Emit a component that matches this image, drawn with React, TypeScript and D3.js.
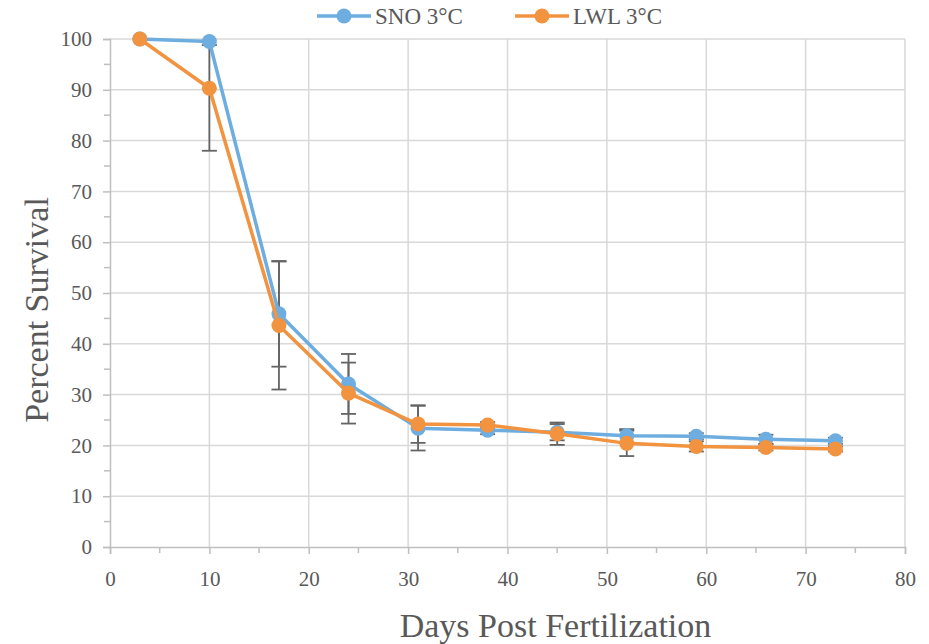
import React, { useEffect, useRef } from 'react';
import * as d3 from 'd3';

const days = [3, 10, 17, 24, 31, 38, 45, 52, 59, 66, 73];
const snoValues = [100, 99.5, 45.9, 32.1, 23.4, 23.0, 22.6, 21.9, 21.8, 21.2, 20.9];
const lwlValues = [100, 90.3, 43.6, 30.3, 24.2, 24.0, 22.3, 20.4, 19.8, 19.6, 19.3];
const snoErr = [0, 0.7, 10.4, 5.9, 4.4, 0.8, 1.6, 1.3, 0.6, 0.9, 0.6];
const lwlErr = [0, 12.3, 12.6, 6.0, 3.7, 0.6, 2.2, 2.5, 1.0, 0.6, 0.5];
const seriesNames = ['SNO 3°C', 'LWL 3°C'];
const seriesColors = ['#6DADE0', '#F29340'];
const xTicks = [0, 10, 20, 30, 40, 50, 60, 70, 80];
const xMinor = [5, 15, 25, 35, 45, 55, 65, 75];
const yTicks = [0, 10, 20, 30, 40, 50, 60, 70, 80, 90, 100];
const yMinor = [5, 15, 25, 35, 45, 55, 65, 75, 85, 95];
const xTitle = 'Days Post Fertilization';
const yTitle = 'Percent Survival';

export default function App() {
  const ref = useRef<SVGSVGElement>(null);
  useEffect(() => {
    const svg = d3.select(ref.current);
    svg.selectAll('*').remove();
    const W = 929, H = 644;
    const left = 110, right = 905, top = 39, bottom = 547;
    const x = d3.scaleLinear().domain([0, 80]).range([left, right]);
    const y = d3.scaleLinear().domain([0, 100]).range([bottom, top]);
    const font = "'Liberation Serif', 'Times New Roman', serif";
    const textColor = '#595959';
    const gridColor = '#D9D9D9';

    svg.attr('width', W).attr('height', H);
    svg.append('rect').attr('width', W).attr('height', H).attr('fill', '#fff');

    svg.append('defs').append('clipPath').attr('id', 'plotclip')
      .append('rect').attr('x', left - 10).attr('y', top).attr('width', right - left + 20).attr('height', bottom - top + 10);

    // gridlines
    const grid = svg.append('g');
    grid.selectAll('.gy').data(yTicks.filter(v => v > 0)).join('line')
      .attr('x1', left).attr('x2', right).attr('y1', d => y(d)).attr('y2', d => y(d))
      .attr('stroke', gridColor).attr('stroke-width', 1.5);
    grid.selectAll('.gx').data(xTicks.filter(v => v > 0)).join('line')
      .attr('x1', d => x(d)).attr('x2', d => x(d)).attr('y1', top).attr('y2', bottom)
      .attr('stroke', gridColor).attr('stroke-width', 1.5);

    // axes
    const axisColor = '#BFBFBF';
    const yAxis = d3.axisLeft(y).tickValues(yTicks).tickSize(7).tickFormat(d3.format('d'));
    const yg = svg.append('g').attr('transform', `translate(${left},0)`).call(yAxis);
    yg.select('.domain').attr('stroke', axisColor).attr('stroke-width', 1.5);
    yg.selectAll('.tick line').attr('stroke', axisColor).attr('stroke-width', 1.5);
    yg.selectAll('.tick text').attr('font-family', font).attr('font-size', 21)
      .attr('fill', textColor).attr('x', -18);
    svg.append('g').selectAll('line').data(yMinor).join('line')
      .attr('x1', left - 6).attr('x2', left).attr('y1', d => y(d)).attr('y2', d => y(d))
      .attr('stroke', axisColor).attr('stroke-width', 1.5);

    const xAxis = d3.axisBottom(x).tickValues(xTicks).tickSize(7).tickFormat(d3.format('d'));
    const xg = svg.append('g').attr('transform', `translate(0,${bottom})`).call(xAxis);
    xg.select('.domain').attr('stroke', axisColor).attr('stroke-width', 1.5);
    xg.selectAll('.tick line').attr('stroke', axisColor).attr('stroke-width', 1.5);
    xg.selectAll('.tick text').attr('font-family', font).attr('font-size', 21)
      .attr('fill', textColor).attr('y', 24);
    svg.append('g').selectAll('line').data(xMinor).join('line')
      .attr('x1', d => x(d)).attr('x2', d => x(d)).attr('y1', bottom).attr('y2', bottom + 6)
      .attr('stroke', axisColor).attr('stroke-width', 1.5);

    // axis titles
    svg.append('text').attr('x', (left + right) / 2 + 48).attr('y', 637)
      .attr('text-anchor', 'middle').attr('font-family', font).attr('font-size', 34)
      .attr('fill', textColor).text(xTitle);
    svg.append('text').attr('transform', `translate(48,${(top + bottom) / 2 + 17}) rotate(-90)`)
      .attr('text-anchor', 'middle').attr('font-family', font).attr('font-size', 34)
      .attr('fill', textColor).text(yTitle);

    const series = [
      { vals: snoValues, err: snoErr, color: seriesColors[0] },
      { vals: lwlValues, err: lwlErr, color: seriesColors[1] },
    ];

    // error bars
    const eb = svg.append('g').attr('clip-path', 'url(#plotclip)');
    series.forEach(s => {
      days.forEach((d, i) => {
        const e = s.err[i];
        if (e <= 0) return;
        const cx = x(d);
        const y1 = y(s.vals[i] + e), y2 = y(s.vals[i] - e);
        eb.append('line').attr('x1', cx).attr('x2', cx).attr('y1', y1).attr('y2', y2)
          .attr('stroke', '#646464').attr('stroke-width', 1.8);
        [y1, y2].forEach(yy => {
          eb.append('line').attr('x1', cx - 7.5).attr('x2', cx + 7.5).attr('y1', yy).attr('y2', yy)
            .attr('stroke', '#646464').attr('stroke-width', 1.8);
        });
      });
    });

    // lines + markers
    const line = d3.line<number>().x((_, i) => x(days[i])).y(v => y(v));
    series.forEach(s => {
      svg.append('path').datum(s.vals).attr('d', line).attr('fill', 'none')
        .attr('stroke', s.color).attr('stroke-width', 3.5).attr('stroke-linejoin', 'round');
      svg.append('g').selectAll('circle').data(s.vals).join('circle')
        .attr('cx', (_, i) => x(days[i])).attr('cy', v => y(v)).attr('r', 7.5)
        .attr('fill', s.color);
    });

    // legend
    const legendItems = [
      { name: seriesNames[0], color: seriesColors[0], x0: 317 },
      { name: seriesNames[1], color: seriesColors[1], x0: 515 },
    ];
    const ly = 16;
    legendItems.forEach(it => {
      svg.append('line').attr('x1', it.x0).attr('x2', it.x0 + 54).attr('y1', ly).attr('y2', ly)
        .attr('stroke', it.color).attr('stroke-width', 3.5);
      svg.append('circle').attr('cx', it.x0 + 27).attr('cy', ly).attr('r', 7.5).attr('fill', it.color);
      svg.append('text').attr('x', it.x0 + 58).attr('y', ly + 8).attr('font-family', font)
        .attr('font-size', 23).attr('fill', textColor).text(it.name);
    });
  }, []);
  return <svg ref={ref} style={{ position: 'absolute', left: 0, top: 0 }} />;
}
